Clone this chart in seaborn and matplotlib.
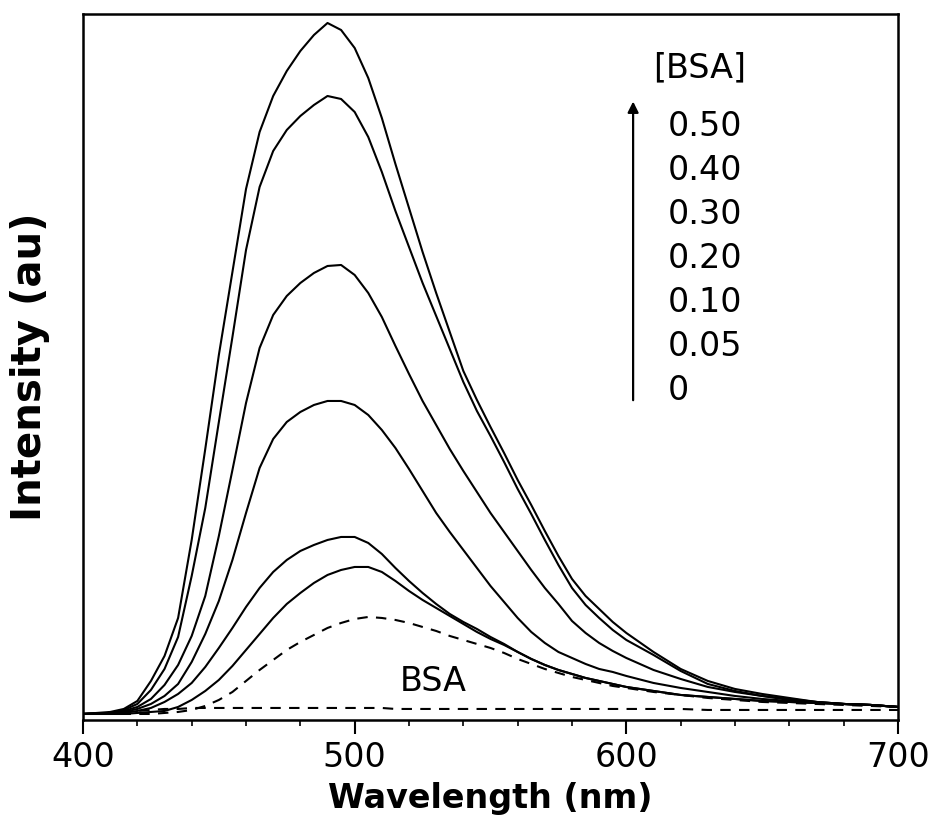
import matplotlib
matplotlib.use("Agg")
import matplotlib.pyplot as plt
import seaborn as sns
from matplotlib.ticker import MultipleLocator

# wavelength grid (nm)
wavelength = [400, 410, 415, 420, 425, 430, 435, 440, 445, 450, 455, 460, 465, 470, 475, 480,
              485, 490, 495, 500, 505, 510, 515, 520, 525, 530, 535, 540, 545, 550, 555, 560,
              565, 570, 575, 580, 585, 590, 595, 600, 610, 620, 630, 640, 650, 660, 670, 680,
              690, 700]

# emission intensity (au), one list per [BSA]
i_050 = [0, 2, 5, 13, 33, 58, 96, 174, 265, 359, 442, 525, 582, 618, 643, 663,
         679, 691, 684, 666, 636, 596, 550, 506, 462, 421, 382, 343, 314, 287, 261, 234,
         209, 183, 158, 135, 118, 105, 92, 81, 62, 45, 33, 25, 20, 16, 12, 10,
         9, 7]
i_040 = [0, 1, 4, 10, 24, 45, 77, 138, 206, 292, 377, 464, 527, 563, 584, 598,
         609, 618, 615, 602, 577, 542, 503, 467, 431, 398, 365, 332, 303, 278, 252, 225,
         200, 174, 149, 126, 109, 96, 84, 74, 59, 43, 30, 23, 18, 15, 12, 10,
         9, 7]
i_030 = [0, 1, 3, 7, 15, 29, 49, 78, 118, 178, 244, 311, 366, 399, 418, 431,
         441, 448, 449, 439, 421, 397, 368, 340, 313, 289, 265, 243, 222, 201, 182, 163,
         144, 126, 110, 93, 81, 71, 63, 56, 44, 35, 27, 22, 18, 14, 12, 10,
         9, 7]
i_020 = [0, 1, 2, 5, 10, 18, 30, 52, 80, 113, 154, 201, 246, 275, 292, 302,
         309, 313, 313, 309, 299, 284, 266, 245, 223, 201, 182, 164, 146, 128, 112, 96,
         82, 71, 62, 56, 50, 45, 42, 38, 31, 26, 22, 18, 15, 13, 11, 10,
         9, 7]
i_010 = [0, 0, 1, 3, 6, 12, 20, 31, 47, 66, 86, 107, 126, 142, 154, 163,
         169, 174, 177, 177, 171, 160, 146, 133, 121, 110, 100, 92, 85, 77, 70, 62,
         55, 49, 44, 40, 36, 33, 30, 27, 23, 19, 17, 15, 13, 12, 11, 10,
         9, 7]
i_005 = [0, 0, 0, 1, 2, 3, 7, 14, 23, 34, 48, 64, 80, 96, 110, 121,
         131, 139, 144, 147, 147, 142, 133, 123, 114, 106, 98, 90, 82, 75, 69, 62,
         55, 49, 44, 40, 36, 33, 30, 27, 23, 19, 17, 15, 13, 12, 11, 10,
         9, 7]
i_000 = [0, 0, 0, 0, 0, 1, 2, 4, 8, 14, 22, 33, 44, 54, 64, 72,
         79, 86, 91, 95, 97, 96, 94, 91, 87, 83, 78, 74, 70, 66, 61, 55,
         50, 45, 41, 37, 34, 31, 28, 26, 22, 19, 16, 14, 12, 11, 10, 9,
         8, 7]
i_bsa = [0, 1, 2, 3, 4, 5, 5, 6, 6, 6, 6, 6, 6, 6, 6, 6,
         6, 6, 6, 6, 6, 6, 5, 5, 5, 5, 5, 5, 5, 5, 5, 5,
         5, 5, 5, 5, 5, 5, 5, 5, 5, 5, 4, 4, 4, 4, 4, 4,
         4, 4]

conc_labels = ["0.50", "0.40", "0.30", "0.20", "0.10", "0.05", "0"]

sns.set_theme(style="white")
plt.rcParams["font.family"] = ["DejaVu Sans"]

fig = plt.figure(figsize=(9.35, 8.23), dpi=100)
ax = fig.add_axes([0.0888, 0.1252, 0.8716, 0.8578])

for vals in [i_050, i_040, i_030, i_020, i_010, i_005]:
    sns.lineplot(x=wavelength, y=vals, ax=ax, color="black", lw=1.5)
for vals in [i_000, i_bsa]:
    sns.lineplot(x=wavelength, y=vals, ax=ax, color="black", lw=1.5, linestyle=(0, (5, 4)))

ax.set_xlim(400, 700)
ax.set_ylim(-6, 700)
ax.xaxis.set_major_locator(MultipleLocator(100))
ax.xaxis.set_minor_locator(MultipleLocator(20))
ax.set_yticks([])
ax.tick_params(axis="x", which="major", direction="out", length=10, width=1.5,
               color="black", labelcolor="black", labelsize=24, pad=5, bottom=True, top=False)
ax.tick_params(axis="x", which="minor", direction="out", length=4.5, width=1.2,
               color="black", bottom=True, top=False)
for s in ax.spines.values():
    s.set_color("black")
    s.set_linewidth(1.8)

ax.set_xlabel("Wavelength (nm)", fontsize=24, fontweight="bold", color="black", labelpad=6)
ax.set_ylabel("Intensity (au)", fontsize=29, fontweight="bold", color="black")
ax.yaxis.set_label_coords(-0.040, 0.5)

# concentration key
ax.text(0.756, 0.923, "[BSA]", transform=ax.transAxes, ha="center", va="center",
        fontsize=24, color="black")
for k, lab in enumerate(conc_labels):
    ax.text(0.717, 0.840 - 0.0623 * k, lab, transform=ax.transAxes, ha="left", va="center",
            fontsize=24, color="black")
ax.annotate("", xy=(0.675, 0.880), xytext=(0.675, 0.449), xycoords="axes fraction",
            arrowprops=dict(arrowstyle="-|>", color="black", lw=1.6, mutation_scale=16))
ax.text(0.430, 0.054, "BSA", transform=ax.transAxes, ha="center", va="center",
        fontsize=24, color="black")

fig.savefig("out.png", dpi=100)
